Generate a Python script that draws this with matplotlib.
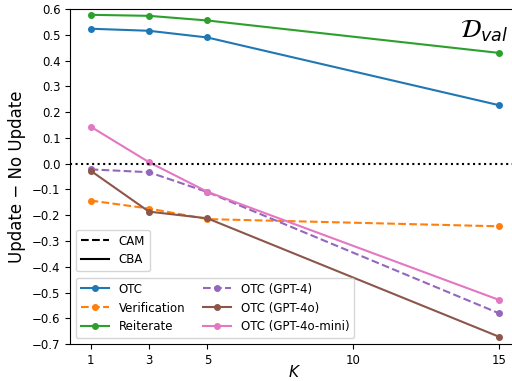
import numpy as np
import matplotlib.pyplot as plt
from matplotlib.lines import Line2D

# K values
k = [1, 3, 5, 15]

# measured differences (Update - No Update)
otc = [0.524, 0.516, 0.490, 0.227]
verification = [-0.143, -0.174, -0.215, -0.243]
reiterate = [0.578, 0.574, 0.556, 0.430]
otc_gpt4 = [-0.022, -0.033, -0.110, -0.581]
otc_gpt4o = [-0.027, -0.186, -0.212, -0.672]
otc_gpt4o_mini = [0.144, 0.006, -0.109, -0.529]

fig = plt.figure(figsize=(5.12, 3.81), dpi=100)
ax = fig.add_axes([0.137, 0.097, 0.878, 0.879])

ax.plot(k, otc, "o-", color="C0", ms=4, label="OTC")
ax.plot(k, verification, "o--", color="C1", ms=4, label="Verification")
ax.plot(k, reiterate, "o-", color="C2", ms=4, label="Reiterate")
ax.plot(k, otc_gpt4, "o--", color="C4", ms=4, label="OTC (GPT-4)")
ax.plot(k, otc_gpt4o, "o-", color="C5", ms=4, label="OTC (GPT-4o)")
ax.plot(k, otc_gpt4o_mini, "o-", color="C6", ms=4, label="OTC (GPT-4o-mini)")

ax.axhline(0, color="k", ls=":", lw=1.5)

ax.set_xlim(0.3, 15.7)
ax.set_ylim(-0.7, 0.6)
ax.set_xticks([1, 3, 5, 10, 15])
ax.set_yticks(np.arange(-0.7, 0.61, 0.1))
ax.tick_params(labelsize=8.5)
ax.set_xlabel("$K$", fontsize=11, labelpad=-2)
ax.set_ylabel("Update − No Update", fontsize=12)

ax.text(0.975, 0.97, r"$\mathcal{D}_{val}$", transform=ax.transAxes,
        fontsize=18, ha="right", va="top")

leg1 = ax.legend(loc="lower left", ncol=2, fontsize=8.5, handlelength=2.4,
                 columnspacing=1.5)
ax.add_artist(leg1)
style_handles = [Line2D([], [], color="k", ls="--"), Line2D([], [], color="k", ls="-")]
ax.legend(style_handles, ["CAM", "CBA"], loc="lower left", fontsize=8.5,
          handlelength=2.4, bbox_to_anchor=(0, 0.2))

fig.savefig("out.png", dpi=100)
